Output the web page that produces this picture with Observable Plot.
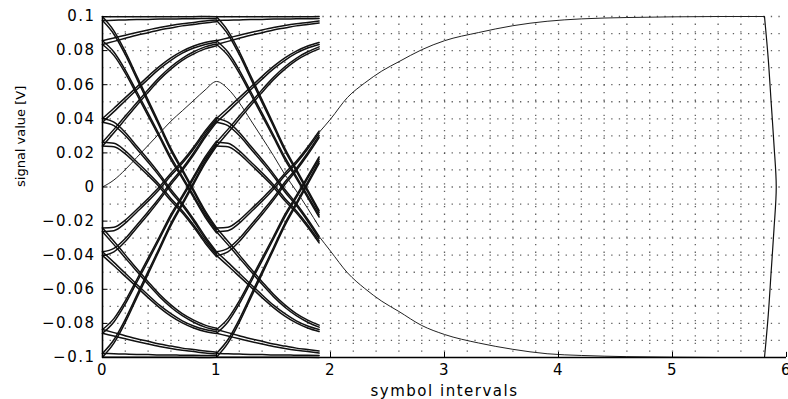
<!DOCTYPE html>
<html>
<head>
<meta charset="utf-8">
<script src="https://cdn.jsdelivr.net/npm/d3@7"></script>
<script src="https://cdn.jsdelivr.net/npm/@observablehq/plot@0.6"></script>
<style>
  html, body { margin: 0; padding: 0; background: #fff; }
</style>
</head>
<body>
<div id="chart"></div>
<script>
// Axis ticks
const xTicks = [0, 1, 2, 3, 4, 5, 6];
const yTicks = [-0.1, -0.08, -0.06, -0.04, -0.02, 0, 0.02, 0.04, 0.06, 0.08, 0.1];
const xGrid = [0.2, 0.4, 0.6, 0.8, 1, 1.2, 1.4, 1.6, 1.8, 2, 2.2, 2.4, 2.6, 2.8, 3, 3.2, 3.4, 3.6, 3.8, 4,
               4.2, 4.4, 4.6, 4.8, 5, 5.2, 5.4, 5.6, 5.8];
const yGrid = [-0.09, -0.08, -0.07, -0.06, -0.05, -0.04, -0.03, -0.02, -0.01, 0,
               0.01, 0.02, 0.03, 0.04, 0.05, 0.06, 0.07, 0.08, 0.09, 0.1];

// Position inside one symbol interval (symbol intervals)
const symbolSteps = [0, 0.1, 0.2, 0.3, 0.4, 0.5, 0.6, 0.7, 0.8, 0.9, 1.0];

// Eye segments over one symbol interval [V], starting from a positive level
const upperSegments = [
  [0.0987, 0.0988, 0.0989, 0.0990, 0.0991, 0.0992, 0.0992, 0.0993, 0.0993, 0.0994, 0.0994],
  [0.0847, 0.0864, 0.0881, 0.0898, 0.0913, 0.0928, 0.0940, 0.0951, 0.0959, 0.0968, 0.0974],
  [0.0391, 0.0452, 0.0515, 0.0578, 0.0641, 0.0700, 0.0750, 0.0791, 0.0821, 0.0842, 0.0854],
  [0.0251, 0.0328, 0.0407, 0.0486, 0.0563, 0.0636, 0.0698, 0.0749, 0.0787, 0.0816, 0.0834],
  [0.0987, 0.0906, 0.0785, 0.0644, 0.0503, 0.0362, 0.0220, 0.0099, -0.0023, -0.0144, -0.0244],
  [0.0847, 0.0782, 0.0677, 0.0552, 0.0425, 0.0298, 0.0168, 0.0057, -0.0057, -0.0170, -0.0264],
  [0.0391, 0.0370, 0.0311, 0.0232, 0.0153, 0.0070, -0.0022, -0.0103, -0.0195, -0.0296, -0.0384],
  [0.0251, 0.0246, 0.0203, 0.0140, 0.0075, 0.0006, -0.0074, -0.0145, -0.0229, -0.0322, -0.0404]
];

// Eye segments starting from a negative level [V]
const lowerSegments = [
  [-0.0987, -0.0988, -0.0989, -0.0990, -0.0991, -0.0992, -0.0992, -0.0993, -0.0993, -0.0994, -0.0994],
  [-0.0847, -0.0864, -0.0881, -0.0898, -0.0913, -0.0928, -0.0940, -0.0951, -0.0959, -0.0968, -0.0974],
  [-0.0391, -0.0452, -0.0515, -0.0578, -0.0641, -0.0700, -0.0750, -0.0791, -0.0821, -0.0842, -0.0854],
  [-0.0251, -0.0328, -0.0407, -0.0486, -0.0563, -0.0636, -0.0698, -0.0749, -0.0787, -0.0816, -0.0834],
  [-0.0987, -0.0906, -0.0785, -0.0644, -0.0503, -0.0362, -0.0220, -0.0099, 0.0023, 0.0144, 0.0244],
  [-0.0847, -0.0782, -0.0677, -0.0552, -0.0425, -0.0298, -0.0168, -0.0057, 0.0057, 0.0170, 0.0264],
  [-0.0391, -0.0370, -0.0311, -0.0232, -0.0153, -0.0070, 0.0022, 0.0103, 0.0195, 0.0296, 0.0384],
  [-0.0251, -0.0246, -0.0203, -0.0140, -0.0075, -0.0006, 0.0074, 0.0145, 0.0229, 0.0322, 0.0404]
];

// Offset of the twin traces (older symbol of either sign) [V]
const pairSpread = [0.0011, 0.0010, 0.0009, 0.0008, 0.0008, 0.0007, 0.0007, 0.0006, 0.0006, 0.0006, 0.0005];

// Each trace covers two symbol intervals and is cut at 1.9
const intervalStarts = [0, 1];
const windowEnd = 1.9;

// First trace, starting from rest
const startX = [0, 0.1, 0.2, 0.3, 0.4, 0.5, 0.6, 0.7, 0.8, 0.9, 1.0, 1.1, 1.2, 1.3, 1.4, 1.5, 1.6, 1.7, 1.8, 1.9];
const startY = [0, 0.0041, 0.0102, 0.0173, 0.0244, 0.0315, 0.0386, 0.0447, 0.0508, 0.0569, 0.0619,
                0.0576, 0.0494, 0.0392, 0.0289, 0.0184, 0.0073, -0.0023, -0.0126, -0.0233];

// Settling tails after the last window
const tailX = [1.9, 2.0, 2.15, 2.3, 2.45, 2.6, 2.8, 3.0, 3.3, 3.6, 3.9, 4.2, 4.6, 5.0, 5.4, 5.8];
const tailUpper = [0.032, 0.0398, 0.0526, 0.061, 0.068, 0.0735, 0.0805, 0.0858, 0.0906, 0.0946,
                   0.0972, 0.0986, 0.0994, 0.0998, 0.1, 0.1];
const tailLower = [-0.029, -0.0376, -0.0504, -0.0595, -0.067, -0.073, -0.0812, -0.0865, -0.0915, -0.0952,
                   -0.0978, -0.0988, -0.0995, -0.0998, -0.1, -0.1];

// Return stroke at the end of the record
const edgeX = [5.807, 5.84, 5.865, 5.89, 5.91, 5.89, 5.865, 5.84, 5.807];
const edgeY = [0.1, 0.075, 0.05, 0.025, 0, -0.025, -0.05, -0.075, -0.1];

// Build the eye-diagram table
const eyeRows = [];
let traceId = 0;
for (const start of intervalStarts) {
  for (const seg of [...upperSegments, ...lowerSegments]) {
    for (const side of [-1, 1]) {
      symbolSteps.forEach((t, i) => {
        if (start + t <= windowEnd + 1e-9) {
          eyeRows.push({x: start + t, y: seg[i] + side * pairSpread[i], id: traceId});
        }
      });
      traceId++;
    }
  }
}
const startRows = startX.map((x, i) => ({x, y: startY[i]}));
const upperRows = tailX.map((x, i) => ({x, y: tailUpper[i]}));
const lowerRows = tailX.map((x, i) => ({x, y: tailLower[i]}));
const edgeRows = edgeX.map((x, i) => ({x, y: edgeY[i]}));

const gridStyle = {stroke: "#444", strokeWidth: 1.3, strokeDasharray: "1.3,6.3", strokeOpacity: 0.85};

const chart = Plot.plot({
  width: 788,
  height: 399,
  marginLeft: 102,
  marginRight: 2,
  marginTop: 16,
  marginBottom: 42,
  style: "font-family: 'DejaVu Sans', sans-serif; font-size: 15px; letter-spacing: 1.5px; background: white; color: black;",
  x: {domain: [0, 6], ticks: xTicks, tickSize: 0, tickPadding: 7, tickFormat: d => String(d), label: null},
  y: {domain: [-0.1, 0.1], ticks: yTicks, tickSize: 0, tickPadding: 7, tickFormat: d3.format("~g"), label: null},
  marks: [
    Plot.ruleX(xGrid, gridStyle),
    Plot.ruleY(yGrid, gridStyle),
    Plot.line(eyeRows, {x: "x", y: "y", z: "id", stroke: "#111", strokeWidth: 1.5, curve: "monotone-x"}),
    Plot.line(startRows, {x: "x", y: "y", stroke: "#222", strokeWidth: 1, curve: "monotone-x"}),
    Plot.line(upperRows, {x: "x", y: "y", stroke: "#222", strokeWidth: 1, curve: "monotone-x"}),
    Plot.line(lowerRows, {x: "x", y: "y", stroke: "#222", strokeWidth: 1, curve: "monotone-x"}),
    Plot.line(edgeRows, {x: "x", y: "y", stroke: "#111", strokeWidth: 1.2, curve: "catmull-rom"}),
    Plot.ruleX([0], {stroke: "black", strokeWidth: 1.6}),
    Plot.ruleY([-0.1], {stroke: "black", strokeWidth: 1.6}),
    Plot.ruleY(yTicks, {x1: 0, x2: 0.048, stroke: "black", strokeWidth: 1}),
    Plot.ruleX(xTicks, {y1: -0.1, y2: -0.097, stroke: "black", strokeWidth: 1}),
    Plot.text(["symbol intervals"], {frameAnchor: "bottom", dy: 38, fontSize: 15}),
    Plot.text(["signal value [V]"], {frameAnchor: "left", rotate: -90, dx: -82, fontSize: 13})
  ]
});

d3.select(chart).selectAll("text")
  .filter(function() { return this.textContent === "signal value [V]"; })
  .style("letter-spacing", "0px");

document.getElementById("chart").appendChild(chart);
</script>
</body>
</html>
